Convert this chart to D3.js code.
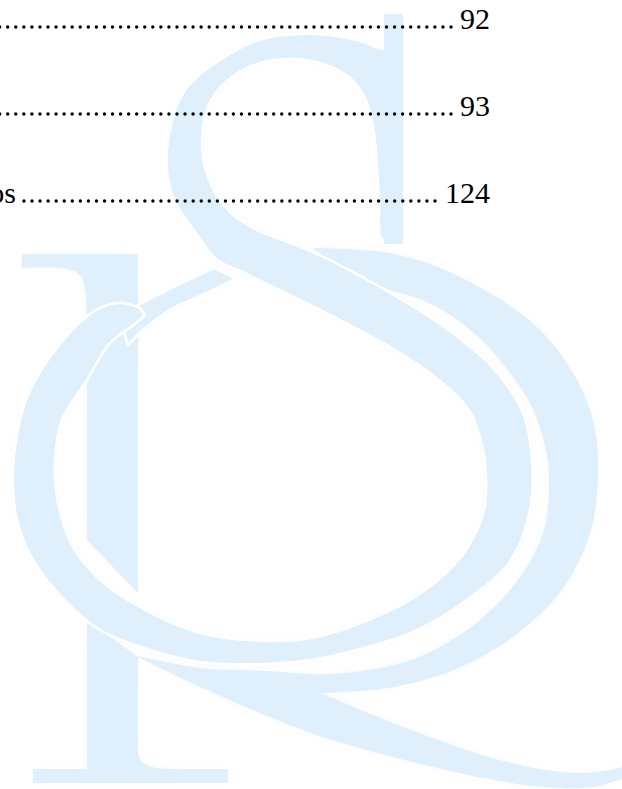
<!DOCTYPE html>
<html>
<head>
<meta charset="utf-8">
<script src="https://cdn.jsdelivr.net/npm/d3@7"></script>
<style>
  html, body { margin: 0; padding: 0; background: #ffffff; }
  svg { display: block; }
</style>
</head>
<body>
<script>
// ---- Table-of-contents data (visible fragment) ----
const entryLabels = ["", "", "Anexos"];
const pageNumbers = ["92", "93", "124"];
const rowIndex = [0, 1, 2];

// ---- Watermark logo outlines ("RS" monogram), page pixel space ----
const sBandSideP = [[392,244],[381,238],[379,200],[377,167],[374,133],[366,100],[350,78],[323,64],[292,59],[260,63],[232,77],[211,100],[202,140],[208,177],[228,210],[255,229],[285,241],[313,252],[380,287],[447,329],[493,368],[523,413],[532,460],[530,510],[511,560],[471,597],[411,633],[344,653],[311,660],[267,664],[200,662],[150,650],[100,630],[67,603],[33,560],[17,520],[13,470],[18,430],[27,397],[50,357],[85,318],[102,307],[122,303],[140,308]];
const sBandSideQ = [[392,48],[384,49],[360,41],[330,35],[300,34],[265,38],[220,60],[183,93],[167,150],[172,195],[195,232],[217,260],[240,271],[273,287],[340,320],[400,353],[440,381],[470,412],[483,450],[486,480],[484,510],[464,553],[421,593],[361,623],[311,638],[267,641],[200,633],[140,607],[100,580],[73,547],[58,503],[55,463],[62,420],[87,380],[110,343],[135,324],[145,315]];
const rOuter = [[313,248],[345,249],[383,252],[427,263],[490,293],[540,330],[573,373],[593,420],[598,470],[591,530],[564,587],[518,633],[461,667],[394,687],[321,693]];
const rLegUpper = [[321,693],[411,730],[511,763],[578,773],[622,767],[650,755]];
const rLegLower = [[650,772],[622,779],[594,787],[544,787],[478,777],[378,753],[311,733],[200,687],[138,657]];
const rInner = [[138,656],[200,668],[267,671],[311,674],[344,673],[411,660],[471,627],[518,580],[544,530],[549,477],[547,455],[533,409],[507,369],[473,332],[427,302],[380,286],[316,251],[313,248]];
const tailUpper = [[118,315],[138,305],[180,284],[214,268]];
const tailLower = [[236,279],[200,296],[170,310],[143,330],[128,345]];
const stemUpperStraight = [[22,254],[138,254],[138,593],[87,540],[87,318]];
const stemUpperSerif = [[87,318],[85,290],[80,275],[67,269],[22,268]];
const stemLowerStraight = [[87,620],[138,657],[138,752]];
const stemLowerCurve = [[138,752],[141,761],[152,767],[172,769],[192,769]];
const stemLowerSerif = [[192,769],[228,769],[228,783],[33,783],[33,769],[87,769]];
const sBar = {x0: 384, x1: 403, y0: 14, y1: 244};

const W = 622, H = 789;
const logoColor = "#dff0fc";

const svg = d3.select("body").append("svg")
  .attr("width", W).attr("height", H)
  .attr("viewBox", `0 0 ${W} ${H}`);

svg.append("rect").attr("width", W).attr("height", H).attr("fill", "#ffffff");

const lineSmooth = d3.line().curve(d3.curveCatmullRom.alpha(0.5));
const lineStraight = d3.line();

function joinSegments(segs) {
  return segs.map((s, i) => {
    const d = (s.smooth ? lineSmooth : lineStraight)(s.pts);
    return i === 0 ? d : "L" + d.slice(1);
  }).join("") + "Z";
}
const rev = a => a.slice().reverse();

const logo = svg.append("g").attr("class", "logo");

// soft halo
const defs = svg.append("defs");
const f = defs.append("filter").attr("id", "halo").attr("x", "-10%").attr("y", "-10%").attr("width", "120%").attr("height", "120%");
f.append("feGaussianBlur").attr("in", "SourceAlpha").attr("stdDeviation", 5).attr("result", "b");
f.append("feComponentTransfer").attr("in", "b").append("feFuncA").attr("type", "linear").attr("slope", 0.025);

const shapes = [
  { name: "stemUpper", d: joinSegments([{pts: stemUpperStraight}, {pts: stemUpperSerif, smooth: true}]), stroke: false },
  { name: "stemLower", d: joinSegments([{pts: stemLowerStraight}, {pts: stemLowerCurve, smooth: true}, {pts: stemLowerSerif}]), stroke: false },
  { name: "rBowl", d: joinSegments([{pts: rOuter, smooth: true}, {pts: rLegUpper, smooth: true}, {pts: rLegLower, smooth: true}, {pts: rInner, smooth: true}]), stroke: false },
  { name: "tail", d: joinSegments([{pts: tailUpper, smooth: true}, {pts: tailLower, smooth: true}]), stroke: true },
  { name: "sBand", d: joinSegments([{pts: sBandSideQ, smooth: true}, {pts: rev(sBandSideP), smooth: true}]), stroke: true }
];

// halo layer
logo.append("g").attr("filter", "url(#halo)")
  .selectAll("path").data(shapes).join("path")
  .attr("d", d => d.d).attr("fill", "#000");

logo.selectAll("path.shape").data(shapes).join("path")
  .attr("class", "shape")
  .attr("d", d => d.d)
  .attr("fill", logoColor)
  .attr("stroke", d => d.stroke ? "#ffffff" : "none")
  .attr("stroke-width", 2.5)
  .attr("stroke-linejoin", "round");

logo.append("rect")
  .attr("x", sBar.x0).attr("y", sBar.y0)
  .attr("width", sBar.x1 - sBar.x0).attr("height", sBar.y1 - sBar.y0)
  .attr("fill", logoColor);

// ---- TOC rows ----
const rowY = d3.scaleLinear().domain([0, 2]).range([29, 203]);
const numRight = 490;
const fontSize = 30;
const dotSpacing = 8.06;
const dotEnds = [451, 451, 435];
const dotStarts = [-4, -4, 23];

const toc = svg.append("g").attr("class", "toc")
  .attr("font-family", "'Liberation Serif', 'Times New Roman', Times, serif")
  .attr("font-size", fontSize)
  .attr("fill", "#000");

toc.selectAll("text.num").data(rowIndex).join("text")
  .attr("class", "num")
  .attr("x", numRight)
  .attr("y", i => rowY(i))
  .attr("text-anchor", "end")
  .text(i => pageNumbers[i]);

toc.selectAll("text.label").data(rowIndex.filter(i => entryLabels[i])).join("text")
  .attr("class", "label")
  .attr("x", 16)
  .attr("y", i => rowY(i))
  .attr("text-anchor", "end")
  .text(i => entryLabels[i]);

rowIndex.forEach(i => {
  const n = Math.floor((dotEnds[i] - dotStarts[i]) / dotSpacing);
  const xs = d3.range(n + 1).map(k => dotEnds[i] - k * dotSpacing);
  toc.append("g").selectAll("circle").data(xs).join("circle")
    .attr("cx", x => x)
    .attr("cy", rowY(i) - 2)
    .attr("r", 1.7);
});
</script>
</body>
</html>
